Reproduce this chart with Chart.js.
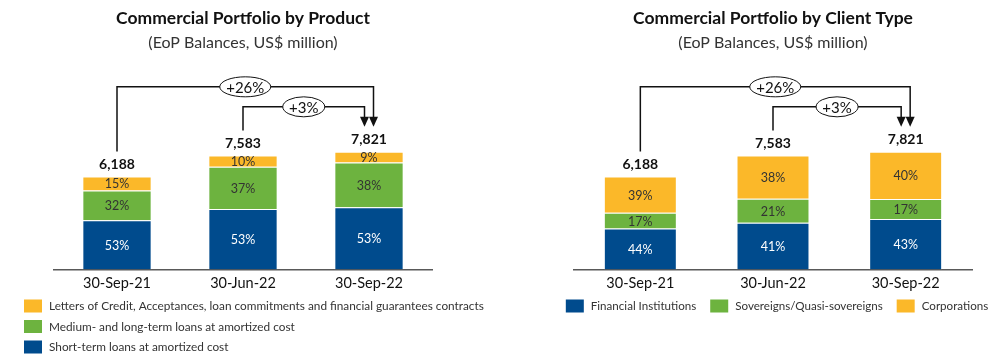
<!DOCTYPE html>
<html>
<head>
<meta charset="utf-8">
<script src="https://cdn.jsdelivr.net/npm/chart.js@4.4.0/dist/chart.umd.min.js"></script>
<style>
  body { margin: 0; background: #fff; }
  #wrap { position: relative; width: 1006px; height: 363px; }
  canvas { position: absolute; top: 0; }
  #product { left: 0; }
  #client { left: 503px; }
</style>
</head>
<body>
<div id="wrap">
  <canvas id="product" width="503" height="363"></canvas>
  <canvas id="client" width="503" height="363"></canvas>
</div>
<script>
// EoP balances, US$ million
const periods = ["30-Sep-21", "30-Jun-22", "30-Sep-22"];
const totals = [6188, 7583, 7821];
const growthLabels = ["+26%", "+3%"];

// by product, share of total (%)
const shortTermPct = [53, 53, 53];
const mediumLongPct = [32, 37, 38];
const lettersPct = [15, 10, 9];

// by client type, share of total (%)
const finInstPct = [44, 41, 43];
const sovereignsPct = [17, 21, 17];
const corporationsPct = [39, 38, 40];

const BLUE = "#004b8d";
const GREEN = "#6db33f";
const ORANGE = "#fbb829";
const FONT = "Lato, 'Open Sans', sans-serif";

const amounts = (pct) => pct.map((p, i) => (totals[i] * p) / 100);

const segment = (label, pct, color, textColor) => ({
  label: label,
  data: amounts(pct),
  pct: pct,
  textColor: textColor,
  backgroundColor: color,
  borderColor: "rgba(255,255,255,0.55)",
  borderWidth: 1,
  barPercentage: 0.55,
  categoryPercentage: 1,
});

// percentages inside segments + totals on top
const barLabels = {
  id: "barLabels",
  afterDatasetsDraw(chart) {
    const ctx = chart.ctx;
    ctx.save();
    ctx.textAlign = "center";
    ctx.textBaseline = "middle";
    ctx.font = "12.5px " + FONT;
    chart.data.datasets.forEach((ds, di) => {
      chart.getDatasetMeta(di).data.forEach((bar, i) => {
        ctx.fillStyle = ds.textColor;
        ctx.fillText(ds.pct[i] + "%", bar.x, (bar.y + bar.base) / 2 + 1);
      });
    });
    const top = chart.getDatasetMeta(chart.data.datasets.length - 1).data;
    ctx.font = "bold 14px " + FONT;
    ctx.fillStyle = "#111";
    top.forEach((bar, i) => {
      ctx.fillText(totals[i].toLocaleString("en-US"), bar.x, bar.y - 12);
    });
    ctx.restore();
  },
};

// +26% / +3% brackets
const growth = {
  id: "growth",
  afterDraw(chart) {
    const ctx = chart.ctx;
    const bars = chart.getDatasetMeta(chart.data.datasets.length - 1).data;
    const start = (i) => bars[i].y - 25;
    const tipY = start(2);
    const draw = (from, dx, lineY, label, w) => {
      const x0 = bars[from].x;
      const x1 = bars[2].x + dx;
      ctx.save();
      ctx.strokeStyle = "#111";
      ctx.fillStyle = "#111";
      ctx.lineWidth = 1.5;
      ctx.beginPath();
      ctx.moveTo(x0, start(from));
      ctx.lineTo(x0, lineY);
      ctx.lineTo(x1, lineY);
      ctx.lineTo(x1, tipY - 8);
      ctx.stroke();
      ctx.beginPath();
      ctx.moveTo(x1 - 4.5, tipY - 10);
      ctx.lineTo(x1 + 4.5, tipY - 10);
      ctx.lineTo(x1, tipY);
      ctx.closePath();
      ctx.fill();
      const cx = (x0 + x1) / 2;
      ctx.beginPath();
      ctx.ellipse(cx, lineY, w / 2, 10, 0, 0, Math.PI * 2);
      ctx.fillStyle = "#fff";
      ctx.fill();
      ctx.lineWidth = 1;
      ctx.stroke();
      ctx.fillStyle = "#111";
      ctx.font = "15px " + FONT;
      ctx.textAlign = "center";
      ctx.textBaseline = "middle";
      ctx.fillText(label, cx, lineY + 1);
      ctx.restore();
    };
    draw(0, 4.5, tipY - 40, growthLabels[0], 51);
    draw(1, -4.5, tipY - 20, growthLabels[1], 42);
  },
};

// legend: a column (left chart) or a centered row (right chart)
const boxLegend = {
  id: "boxLegend",
  afterDraw(chart, args, opts) {
    const ctx = chart.ctx;
    ctx.save();
    ctx.font = opts.fontSize + "px " + FONT;
    ctx.textBaseline = "middle";
    let items = chart.data.datasets.map((ds) => ({ text: ds.label, color: ds.backgroundColor }));
    if (opts.reverse) items = items.reverse();
    const item = (it, x, y) => {
      ctx.fillStyle = it.color;
      ctx.fillRect(x, y - 6.5, 18, 13);
      ctx.fillStyle = "#333";
      ctx.fillText(it.text, x + 25, y + 0.5);
    };
    if (opts.column) {
      items.forEach((it, k) => item(it, opts.x, opts.y + k * opts.rowGap));
    } else {
      const widths = items.map((it) => 25 + ctx.measureText(it.text).width);
      const total = widths.reduce((a, b) => a + b, 0) + 14 * (items.length - 1);
      let x = (chart.chartArea.left + chart.chartArea.right) / 2 + 4 - total / 2;
      items.forEach((it, k) => {
        item(it, x, opts.y);
        x += widths[k] + 14;
      });
    }
    ctx.restore();
  },
};

function makeChart(id, title, datasets, padLeft, padRight, legendOpts) {
  return new Chart(document.getElementById(id), {
    type: "bar",
    data: { labels: periods, datasets: datasets },
    plugins: [barLabels, growth, boxLegend],
    options: {
      responsive: false,
      animation: false,
      layout: { padding: { left: padLeft, right: padRight, top: 0, bottom: 66 } },
      plugins: {
        legend: { display: false },
        tooltip: { enabled: false },
        title: {
          display: true,
          text: title,
          color: "#111",
          font: { family: FONT, size: 17.5, weight: "bold" },
          padding: { top: 8, bottom: 0 },
        },
        subtitle: {
          display: true,
          text: "(EoP Balances, US$ million)",
          color: "#333",
          font: { family: FONT, size: 16 },
          padding: { top: 4, bottom: 66.8 },
        },
        boxLegend: legendOpts,
      },
      scales: {
        x: {
          stacked: true,
          grid: { display: false, drawTicks: false },
          border: { display: true, color: "#595959", width: 1.5 },
          ticks: { padding: 5, color: "#111", font: { family: FONT, size: 14.5 } },
        },
        y: { stacked: true, display: false, min: 0, max: 10000 },
      },
    },
  });
}

makeChart(
  "product",
  "Commercial Portfolio by Product",
  [
    segment("Short-term loans at amortized cost", shortTermPct, BLUE, "#fff"),
    segment("Medium- and long-term loans at amortized cost", mediumLongPct, GREEN, "#333"),
    segment("Letters of Credit, Acceptances, loan commitments and financial guarantees contracts", lettersPct, ORANGE, "#333"),
  ],
  54, 71,
  { column: true, reverse: true, x: 24, y: 306, rowGap: 20.5, fontSize: 11.8 }
);

makeChart(
  "client",
  "Commercial Portfolio by Client Type",
  [
    segment("Financial Institutions", finInstPct, BLUE, "#fff"),
    segment("Sovereigns/Quasi-sovereigns", sovereignsPct, GREEN, "#333"),
    segment("Corporations", corporationsPct, ORANGE, "#333"),
  ],
  71, 34,
  { column: false, reverse: false, y: 306, fontSize: 11.6 }
);
</script>
</body>
</html>
